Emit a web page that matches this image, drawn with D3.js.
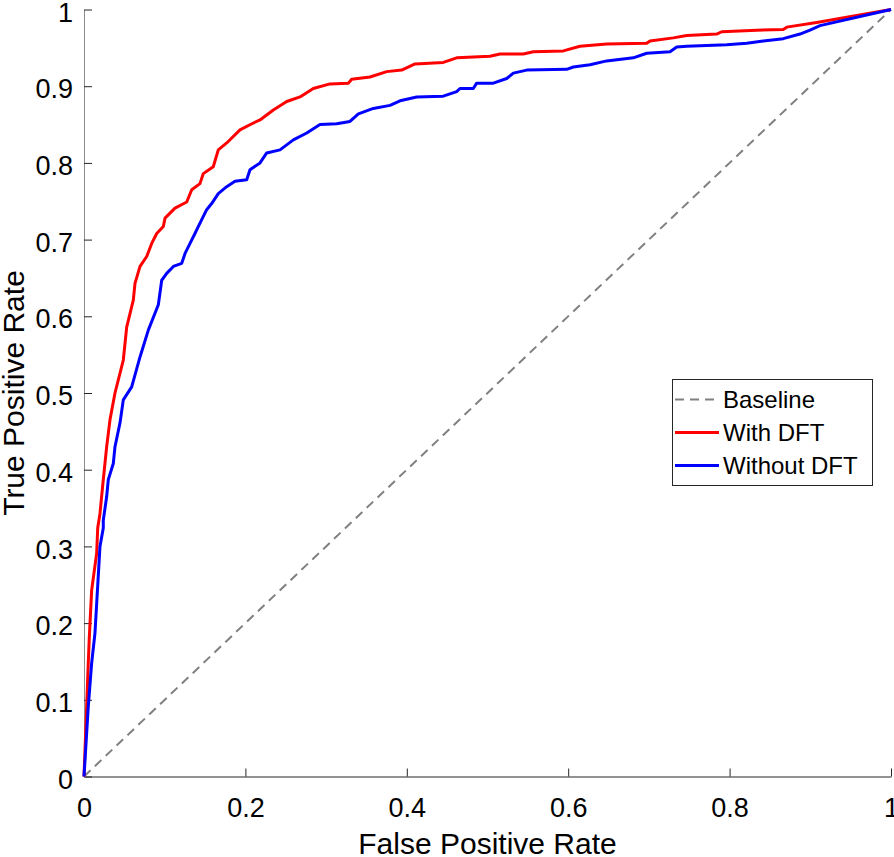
<!DOCTYPE html>
<html>
<head>
<meta charset="utf-8">
<script src="https://cdn.jsdelivr.net/npm/d3@7"></script>
<style>
  html, body { margin: 0; padding: 0; background: #fff; }
  svg { display: block; }
  text { font-family: "Liberation Sans", Arial, Helvetica, sans-serif; fill: #000; }
</style>
</head>
<body>
<svg id="chart" width="894" height="857"></svg>
<script>
// ---- data ----
const xTicks = [0, 0.2, 0.4, 0.6, 0.8, 1];
const yTicks = [0, 0.1, 0.2, 0.3, 0.4, 0.5, 0.6, 0.7, 0.8, 0.9, 1];
const legendLabels = ["Baseline", "With DFT", "Without DFT"];
const baselineFpr = [0, 1];
const baselineTpr = [0, 1];

const withDftFpr = [0, 0.0033, 0.0053, 0.0066, 0.0095, 0.0157, 0.017, 0.0198, 0.0239, 0.0281, 0.0322, 0.0384, 0.0487, 0.0529, 0.0611, 0.0632, 0.0694, 0.0777, 0.0839, 0.0901, 0.0983, 0.1004, 0.1128, 0.1273, 0.1335, 0.1437, 0.1478, 0.1602, 0.1664, 0.1768, 0.1933, 0.2098, 0.2181, 0.2346, 0.2512, 0.2677, 0.2841, 0.3048, 0.3275, 0.3317, 0.3544, 0.3751, 0.3937, 0.4102, 0.4452, 0.4618, 0.5031, 0.5155, 0.5444, 0.5568, 0.5939, 0.6146, 0.6477, 0.6973, 0.7014, 0.7302, 0.7468, 0.784, 0.7902, 0.8336, 0.8665, 0.8708, 0.9079, 1];
const withDftTpr = [0, 0.091, 0.148, 0.182, 0.243, 0.291, 0.324, 0.343, 0.387, 0.43, 0.465, 0.5, 0.543, 0.586, 0.621, 0.643, 0.665, 0.678, 0.695, 0.708, 0.717, 0.728, 0.741, 0.749, 0.765, 0.773, 0.786, 0.795, 0.817, 0.826, 0.843, 0.852, 0.856, 0.869, 0.88, 0.886, 0.897, 0.903, 0.904, 0.909, 0.912, 0.919, 0.921, 0.929, 0.931, 0.937, 0.939, 0.942, 0.942, 0.945, 0.946, 0.952, 0.955, 0.956, 0.959, 0.963, 0.966, 0.968, 0.971, 0.973, 0.974, 0.977, 0.983, 1];

const withoutDftFpr = [0, 0.0053, 0.0095, 0.0136, 0.0198, 0.0239, 0.0239, 0.0281, 0.0301, 0.0363, 0.0384, 0.0446, 0.0487, 0.0591, 0.0694, 0.0797, 0.0921, 0.0963, 0.1025, 0.1107, 0.1211, 0.1252, 0.1314, 0.1375, 0.1416, 0.152, 0.1582, 0.1664, 0.1768, 0.1871, 0.2016, 0.2057, 0.2181, 0.2264, 0.2429, 0.2594, 0.276, 0.2924, 0.3131, 0.3296, 0.34, 0.3585, 0.3792, 0.3916, 0.4123, 0.4452, 0.4618, 0.4659, 0.4824, 0.4866, 0.5072, 0.5238, 0.532, 0.5486, 0.5981, 0.6064, 0.627, 0.6477, 0.6807, 0.6973, 0.7262, 0.7344, 0.7468, 0.7964, 0.8212, 0.8418, 0.8665, 0.8872, 0.8996, 0.912, 1];
const withoutDftTpr = [0, 0.091, 0.148, 0.187, 0.3, 0.324, 0.334, 0.365, 0.387, 0.408, 0.43, 0.461, 0.491, 0.508, 0.547, 0.582, 0.615, 0.647, 0.656, 0.665, 0.669, 0.682, 0.695, 0.708, 0.717, 0.739, 0.747, 0.76, 0.769, 0.776, 0.778, 0.791, 0.8, 0.813, 0.817, 0.83, 0.839, 0.85, 0.851, 0.854, 0.864, 0.871, 0.875, 0.881, 0.886, 0.887, 0.893, 0.897, 0.897, 0.904, 0.904, 0.91, 0.917, 0.921, 0.922, 0.925, 0.928, 0.933, 0.937, 0.943, 0.945, 0.951, 0.952, 0.954, 0.956, 0.959, 0.962, 0.968, 0.973, 0.979, 1];

// ---- layout ----
const svg = d3.select("#chart");
const plotLeft = 84, plotRight = 891, plotTop = 9.5, plotBottom = 776.5;
const x = d3.scaleLinear().domain([0, 1]).range([plotLeft, plotRight]);
const y = d3.scaleLinear().domain([0, 1]).range([plotBottom, plotTop]);
const fmt = d => (d === 0 || d === 1) ? String(d) : d.toFixed(1);
const axisColor = "#262626";

// axes
const gx = svg.append("g").attr("transform", `translate(0,${plotBottom})`)
  .call(d3.axisBottom(x).tickValues(xTicks).tickFormat(fmt).tickSizeInner(-8).tickSizeOuter(0));
gx.select(".domain").attr("stroke", axisColor);
gx.selectAll(".tick line").attr("stroke", axisColor);
gx.selectAll(".tick text").attr("y", 40).attr("dy", null)
  .style("font-size", "27px").attr("fill", "#262626");

const gy = svg.append("g").attr("transform", `translate(${plotLeft},0)`)
  .call(d3.axisLeft(y).tickValues(yTicks).tickFormat(fmt).tickSizeInner(-8).tickSizeOuter(0));
gy.select(".domain").attr("stroke", "#8c8c8c");
gy.selectAll(".tick line").attr("stroke", axisColor);
gy.selectAll(".tick text").attr("x", -11).attr("dy", "0.43em")
  .style("font-size", "27px").attr("fill", "#262626");

// axis labels
svg.append("text").attr("x", (plotLeft + plotRight) / 2).attr("y", 854)
  .attr("text-anchor", "middle").style("font-size", "30px").attr("fill", "#262626")
  .text("False Positive Rate");
svg.append("text").attr("transform", `translate(24,${(plotTop + plotBottom) / 2}) rotate(-90)`)
  .attr("text-anchor", "middle").style("font-size", "30px").attr("fill", "#262626")
  .text("True Positive Rate");

// lines
const line = d3.line().x(d => x(d[0])).y(d => y(d[1]));
svg.append("path").datum(d3.zip(baselineFpr, baselineTpr))
  .attr("d", line).attr("fill", "none").attr("stroke", "#808080")
  .attr("stroke-width", 2).attr("stroke-dasharray", "9,6");
svg.append("path").datum(d3.zip(withDftFpr, withDftTpr))
  .attr("d", line).attr("fill", "none").attr("stroke", "#ff0000")
  .attr("stroke-width", 3).attr("stroke-linejoin", "round");
svg.append("path").datum(d3.zip(withoutDftFpr, withoutDftTpr))
  .attr("d", line).attr("fill", "none").attr("stroke", "#0000ff")
  .attr("stroke-width", 3).attr("stroke-linejoin", "round");

// legend
const lg = svg.append("g");
lg.append("rect").attr("x", 672.5).attr("y", 379.5).attr("width", 200).attr("height", 106)
  .attr("fill", "#fff").attr("stroke", "#262626").attr("stroke-width", 1);
const legStyles = [
  { color: "#808080", width: 2, dash: "9,6" },
  { color: "#ff0000", width: 3, dash: null },
  { color: "#0000ff", width: 3, dash: null }
];
legendLabels.forEach((lab, i) => {
  const cy = 399.5 + i * 33;
  lg.append("line").attr("x1", 675).attr("x2", 719).attr("y1", cy).attr("y2", cy)
    .attr("stroke", legStyles[i].color).attr("stroke-width", legStyles[i].width)
    .attr("stroke-dasharray", legStyles[i].dash);
  lg.append("text").attr("x", 723).attr("y", cy + 8.6)
    .style("font-size", "24px").attr("fill", "#000").text(lab);
});
</script>
</body>
</html>
